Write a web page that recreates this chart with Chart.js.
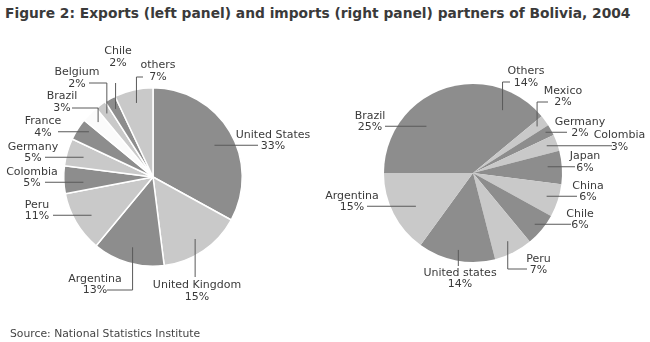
<!DOCTYPE html>
<html>
<head>
<meta charset="utf-8">
<script src="https://cdn.jsdelivr.net/npm/chart.js@4/dist/chart.umd.min.js"></script>
<style>
    body { margin: 0; width: 650px; height: 342px; background: #fff; position: relative; overflow: hidden; font-family: "DejaVu Sans", sans-serif; }
    canvas { position: absolute; left: 0; top: 0; }
    #title { position: absolute; left: 5px; top: 5px; font-size: 13.8px; font-weight: bold; color: #3a3a3a; white-space: nowrap; }
    #source { position: absolute; left: 10px; top: 327px; font-size: 10.8px; color: #444; white-space: nowrap; }
</style>
</head>
<body>
<div id="title">Figure 2: Exports (left panel) and imports (right panel) partners of Bolivia, 2004</div>
<canvas id="exportsChart" width="650" height="342"></canvas>
<canvas id="importsChart" width="650" height="342"></canvas>
<div id="source">Source: National Statistics Institute</div>
<script>
// Exports (left panel), clockwise from 12 o'clock
const exportPartners = ['United States', 'United Kingdom', 'Argentina', 'Peru', 'Colombia', 'Germany', 'France', 'Brazil', 'Belgium', 'Chile', 'others'];
const exportShares = [33, 15, 13, 11, 5, 5, 4, 3, 2, 2, 7];

// Imports (right panel), clockwise from 12 o'clock
const importPartners = ['Others', 'Mexico', 'Germany', 'Colombia', 'Japan', 'China', 'Chile', 'Peru', 'United states', 'Argentina', 'Brazil'];
const importShares = [14, 2, 2, 3, 6, 6, 6, 7, 14, 15, 25];

// Slice fills
const DARK = '#8d8d8d';
const LIGHT = '#c9c9c9';
const exportColors = [DARK, LIGHT, DARK, LIGHT, DARK, LIGHT, DARK, '#fbfbfb', LIGHT, DARK, LIGHT];
const importColors = [DARK, LIGHT, DARK, LIGHT, DARK, LIGHT, DARK, LIGHT, DARK, LIGHT, DARK];

// Label placement relative to pie centre (f = anchor depth in the slice)
const exportLabelLayout = [
    { f: 0.80, kind: 'h', ex: 105, tx: 120, ty: -36.5 },
    { f: 0.84, kind: 'v', ey: 100, tx: 44, ty: 114 },
    { f: 0.82, kind: 'vh', ex: -46, ey: 113, tx: -58, ty: 107.5 },
    { f: 0.80, kind: 'h', ex: -100, tx: -116, ty: 33.5 },
    { f: 0.78, kind: 'h', ex: -108, tx: -121, ty: 0.5 },
    { f: 0.81, kind: 'h', ex: -108, tx: -120, ty: -24.5 },
    { f: 0.85, kind: 'h', ex: -95, tx: -110, ty: -50 },
    { f: 0.87, kind: 'vh', ex: -81, ey: -69, tx: -91, ty: -75 },
    { f: 0.88, kind: 'vh', ex: -64, ey: -94, tx: -76, ty: -99 },
    { f: 0.87, kind: 'v', ey: -94, tx: -35, ty: -120 },
    { f: 0.85, kind: 'vh', ex: -10, ey: -100, tx: 5, ty: -106 }
];
const importLabelLayout = [
    { f: 0.78, kind: 'vh', ex: 37, ey: -91, tx: 53, ty: -96 },
    { f: 0.89, kind: 'vh', ex: 75, ey: -71, tx: 90, ty: -76.5 },
    { f: 0.93, kind: 'h', ex: 94, tx: 107, ty: -45.5 },
    { f: 0.88, kind: 'h', ex: 139, tx: 146.5, ty: -32 },
    { f: 0.84, kind: 'h', ex: 102, tx: 112, ty: -11 },
    { f: 0.87, kind: 'h', ex: 104, tx: 115, ty: 18.5 },
    { f: 0.90, kind: 'h', ex: 98, tx: 107, ty: 46.5 },
    { f: 0.86, kind: 'vh', ex: 54, ey: 96, tx: 65.5, ty: 91.5 },
    { f: 0.88, kind: 'v', ey: 93, tx: -13, ty: 105.5 },
    { f: 0.72, kind: 'h', ex: -106, tx: -121, ty: 28.5 },
    { f: 0.74, kind: 'h', ex: -88, tx: -103, ty: -51.5 }
];

const LINE_GAP = 5.75;

// Draws the name / percentage labels with their leader lines
const pieLabels = {
    id: 'pieLabels',
    afterDatasetsDraw(chart, args, opts) {
        const ctx = chart.ctx;
        const meta = chart.getDatasetMeta(0);
        const labels = chart.data.labels;
        const values = chart.data.datasets[0].data;
        ctx.save();
        ctx.strokeStyle = '#5a5a5a';
        ctx.lineWidth = 1;
        ctx.fillStyle = '#3a3a3a';
        ctx.font = '11px "DejaVu Sans"';
        ctx.textAlign = 'center';
        ctx.textBaseline = 'middle';
        meta.data.forEach((arc, i) => {
            const lay = opts.layout[i];
            const p = arc.getProps(['x', 'y', 'startAngle', 'endAngle', 'outerRadius'], true);
            const mid = (p.startAngle + p.endAngle) / 2;
            let ax = p.x + Math.cos(mid) * p.outerRadius * lay.f;
            let ay = p.y + Math.sin(mid) * p.outerRadius * lay.f;
            ctx.beginPath();
            if (lay.kind === 'h') {
                // horizontal leader at the percentage line
                ay = p.y + lay.ty + LINE_GAP - 1;
                ctx.moveTo(ax, ay);
                ctx.lineTo(p.x + lay.ex, ay);
            } else if (lay.kind === 'v') {
                ctx.moveTo(ax, ay);
                ctx.lineTo(ax, p.y + lay.ey);
            } else {
                ctx.moveTo(ax, ay);
                ctx.lineTo(ax, p.y + lay.ey);
                ctx.lineTo(p.x + lay.ex, p.y + lay.ey);
            }
            ctx.stroke();
            ctx.fillText(labels[i], p.x + lay.tx, p.y + lay.ty - LINE_GAP);
            ctx.fillText(values[i] + '%', p.x + lay.tx, p.y + lay.ty + LINE_GAP);
        });
        ctx.restore();
    }
};

function makePie(canvasId, labels, values, colors, border, padding, layout) {
    const ctx = document.getElementById(canvasId).getContext('2d');
    return new Chart(ctx, {
        type: 'pie',
        data: {
            labels: labels,
            datasets: [{
                data: values,
                backgroundColor: colors,
                borderColor: '#ffffff',
                borderWidth: border
            }]
        },
        options: {
            responsive: false,
            animation: false,
            layout: { padding: padding },
            plugins: {
                legend: { display: false },
                tooltip: { enabled: false },
                pieLabels: { layout: layout }
            }
        },
        plugins: [pieLabels]
    });
}

makePie('exportsChart', exportPartners, exportShares, exportColors, 1.5,
    { left: 63, right: 407, top: 87, bottom: 75 }, exportLabelLayout);
makePie('importsChart', importPartners, importShares, importColors, 0,
    { left: 384, right: 88, top: 84, bottom: 80 }, importLabelLayout);
</script>
</body>
</html>
